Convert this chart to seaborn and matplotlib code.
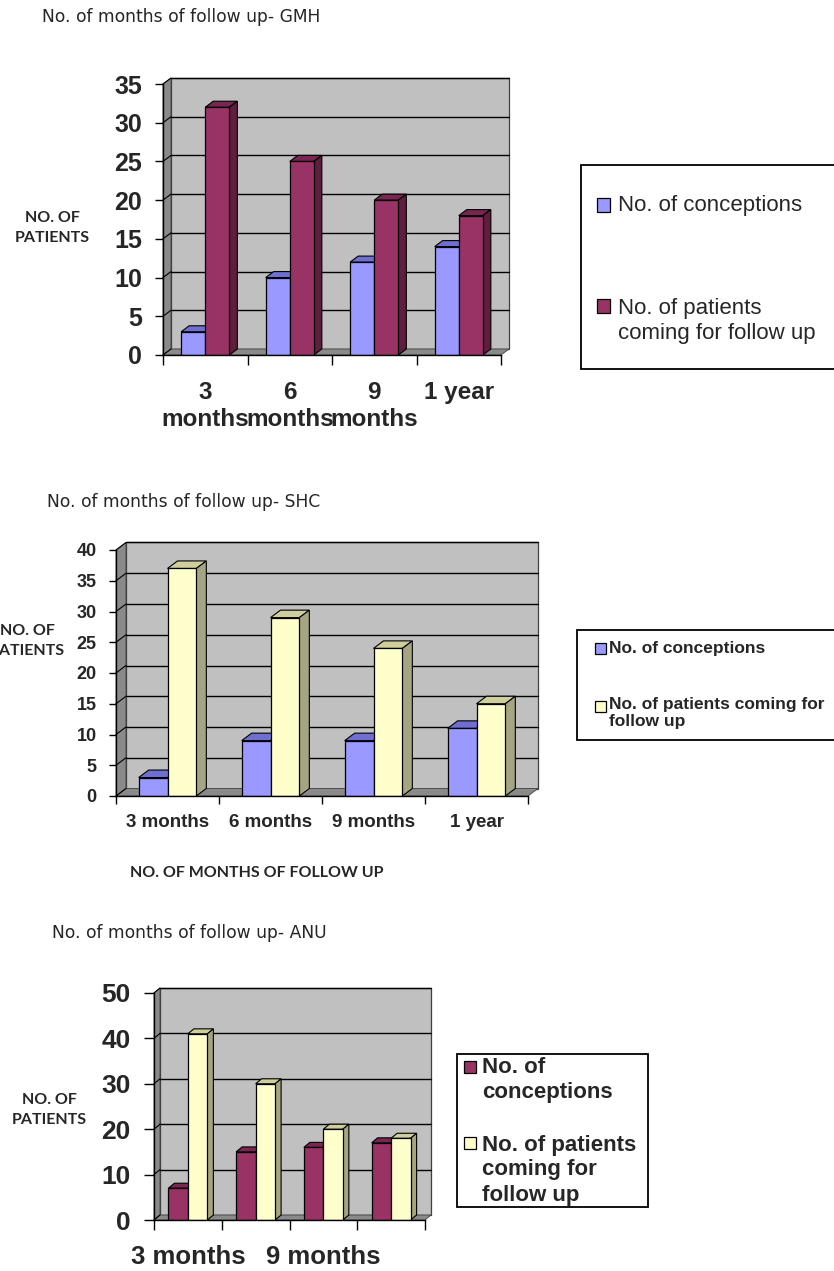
import textwrap

import numpy as np
import pandas as pd
import matplotlib
matplotlib.use("Agg")
import matplotlib.pyplot as plt
from matplotlib.patches import Polygon, Rectangle
import seaborn as sns

# ---------------------------------------------------------------- data
periods = ["3 months", "6 months", "9 months", "1 year"]
series_names = ["No. of conceptions", "No. of patients coming for follow up"]

gmh_conceptions = [3, 10, 12, 14]
gmh_follow_up = [32, 25, 20, 18]

shc_conceptions = [3, 9, 9, 11]
shc_follow_up = [37, 29, 24, 15]

anu_conceptions = [7, 15, 16, 17]
anu_follow_up = [41, 30, 20, 18]

titles = ["No. of months of follow up- GMH",
          "No. of months of follow up- SHC",
          "No. of months of follow up- ANU"]
y_title = "NO. OF\nPATIENTS"
x_title = "NO. OF MONTHS OF FOLLOW UP"

# ---------------------------------------------------------------- style
sns.set_style("white")
plt.rcParams["font.family"] = ["Liberation Sans", "DejaVu Sans"]

W, H = 834, 1271
fig = plt.figure(figsize=(W / 100, H / 100), dpi=100)
fig.patch.set_facecolor("white")

BLUE = ("#9999FF", "#6F6FD2", "#5A5AA8")
MAROON = ("#993366", "#7A2652", "#5E1E3E")
CREAM = ("#FFFFCC", "#CFCF9E", "#A5A583")
WALL = "#C0C0C0"
SIDE_WALL = "#8A8A8A"


def fx(x):
    return x / W


def fy(y):
    return 1 - y / H


def draw_panel(box, ymax, ystep, conc, foll, shades, depth, width,
               tick_labels, ysize, xsize, ypad, xpad, ylen, xlen):
    left, top, right, bottom = box
    ax = fig.add_axes([fx(left), fy(bottom), (right - left) / W, (bottom - top) / H])
    df = pd.DataFrame({
        "period": periods * 2,
        "count": list(conc) + list(foll),
        "series": [series_names[0]] * len(periods) + [series_names[1]] * len(periods),
    })
    sns.barplot(data=df, x="period", y="count", hue="series", order=periods,
                hue_order=series_names, palette=[shades[0][0], shades[1][0]],
                width=width, gap=0, saturation=1, edgecolor="black",
                linewidth=0.9, legend=False, ax=ax, zorder=3)
    ax.set_xlim(-0.5, len(periods) - 0.5)
    ax.set_ylim(0, ymax)
    ax.set_facecolor("none")
    ax.set_xlabel("")
    ax.set_ylabel("")

    # depth of the 3-D box in data units
    sx = (right - left) / len(periods)
    sy = (bottom - top) / ymax
    ddx, ddy = depth[0] / sx, depth[1] / sy
    x_lo, x_hi = -0.5, len(periods) - 0.5

    # back wall, side wall, floor
    ax.add_patch(Rectangle((x_lo + ddx, ddy), x_hi - x_lo, ymax, facecolor=WALL,
                           edgecolor="#404040", lw=0.9, zorder=0, clip_on=False))
    ax.add_patch(Polygon([(x_lo, 0), (x_lo + ddx, ddy), (x_lo + ddx, ymax + ddy), (x_lo, ymax)],
                         closed=True, facecolor=SIDE_WALL, edgecolor="#404040", lw=0.6,
                         zorder=0.5, clip_on=False))
    ax.add_patch(Polygon([(x_lo, 0), (x_hi, 0), (x_hi + ddx, ddy), (x_lo + ddx, ddy)],
                         closed=True, facecolor=SIDE_WALL, edgecolor="#404040", lw=0.6,
                         zorder=0.5, clip_on=False))

    ticks = np.arange(0, ymax + 0.1, ystep)
    for v in ticks:
        if v > 0:
            ax.plot([x_lo + ddx, x_hi + ddx], [v + ddy, v + ddy], color="black",
                    lw=1.0, zorder=1, clip_on=False)
        ax.plot([x_lo, x_lo + ddx], [v, v + ddy], color="black", lw=0.8,
                zorder=0.7, clip_on=False)

    # top and side faces of each bar
    bars = list(ax.patches)[: 2 * len(periods)]
    for i, p in enumerate(bars):
        _, top_c, side_c = shades[i // len(periods)]
        x, w, h = p.get_x(), p.get_width(), p.get_height()
        ax.add_patch(Polygon([(x, h), (x + w, h), (x + w + ddx, h + ddy), (x + ddx, h + ddy)],
                             closed=True, facecolor=top_c, edgecolor="black", lw=0.8,
                             zorder=2.5, clip_on=False))
        ax.add_patch(Polygon([(x + w, 0), (x + w + ddx, ddy), (x + w + ddx, h + ddy), (x + w, h)],
                             closed=True, facecolor=side_c, edgecolor="black", lw=0.8,
                             zorder=2.5, clip_on=False))

    for s in ("top", "right"):
        ax.spines[s].set_visible(False)
    for s in ("left", "bottom"):
        ax.spines[s].set_color("black")
        ax.spines[s].set_linewidth(1.0)
        ax.spines[s].set_zorder(4)

    ax.set_yticks(ticks, labels=[f"{int(t)}" for t in ticks],
                  fontsize=ysize, fontweight="bold")
    ax.tick_params(axis="y", length=ylen, width=1, pad=ypad, color="black",
                   direction="out", left=True)
    ax.set_xticks(range(len(periods)), labels=tick_labels, fontsize=xsize,
                  fontweight="bold")
    ax.tick_params(axis="x", which="major", length=0, pad=xpad)
    ax.set_xticks(np.arange(x_lo, x_hi + 0.1, 1), minor=True)
    ax.tick_params(axis="x", which="minor", length=xlen, width=1, color="black",
                   direction="out", bottom=True)
    return ax


def draw_key(box, entries, fontsize, weight, linespacing, msize, text_x, marker_x):
    left, top, right, bottom = box
    fig.add_artist(Rectangle((fx(left), fy(bottom)), (right - left) / W, (bottom - top) / H,
                             transform=fig.transFigure, facecolor="white",
                             edgecolor="black", lw=1.3))
    for color, label, marker_y, text_y in entries:
        fig.add_artist(Rectangle((fx(marker_x), fy(marker_y + msize / 2)), msize / W, msize / H,
                                 transform=fig.transFigure, facecolor=color,
                                 edgecolor="black", lw=0.9))
        fig.text(fx(text_x), fy(text_y), label, fontsize=fontsize, fontweight=weight,
                 ha="left", va="center", linespacing=linespacing)


# ---------------------------------------------------------------- GMH
draw_panel((163, 84, 501, 355), 35, 5, gmh_conceptions, gmh_follow_up,
           (BLUE, MAROON), (8, 6), 0.57,
           [textwrap.fill(p, 6) for p in periods],
           18, 17.5, 9, 19, 6, 7)
fig.text(fx(42), fy(17), titles[0], family="DejaVu Sans", fontsize=12.3,
         ha="left", va="center")
fig.text(fx(52), fy(228), y_title, family="Lato", fontweight="bold", fontsize=11.5,
         ha="center", va="center", linespacing=1.55)
draw_key((581, 165, 836, 369),
         [(BLUE[0], textwrap.fill(series_names[0], 20), 205, 205),
          (MAROON[0], textwrap.fill(series_names[1], 20), 306, 321)],
         16, "normal", 1.2, 13, 618, 597)

# ---------------------------------------------------------------- SHC
draw_panel((116, 550, 528, 796), 40, 5, shc_conceptions, shc_follow_up,
           (BLUE, CREAM), (10, 7.5), 0.56,
           periods, 13, 13.5, 9, 13, 5, 6)
fig.text(fx(47), fy(502), titles[1], family="DejaVu Sans", fontsize=12.3,
         ha="left", va="center")
fig.text(fx(27), fy(641), y_title, family="Lato", fontweight="bold", fontsize=11.5,
         ha="center", va="center", linespacing=1.55)
fig.text(fx(257), fy(873), x_title, family="Lato", fontweight="bold", fontsize=11.5,
         ha="center", va="center")
draw_key((577, 630, 836, 740),
         [(BLUE[0], textwrap.fill(series_names[0], 26), 648, 648),
          (CREAM[0], textwrap.fill(series_names[1], 26), 706, 713)],
         12.5, "bold", 1.1, 11, 609, 595)

# ---------------------------------------------------------------- ANU
draw_panel((154, 993, 425, 1220), 50, 10, anu_conceptions, anu_follow_up,
           (MAROON, CREAM), (6, 5), 0.575,
           [p if i % 2 == 0 else "" for i, p in enumerate(periods)],
           19, 18.5, 10, 18, 7, 7)
fig.text(fx(52), fy(933), titles[2], family="DejaVu Sans", fontsize=12.3,
         ha="left", va="center")
fig.text(fx(49), fy(1110), y_title, family="Lato", fontweight="bold", fontsize=11.5,
         ha="center", va="center", linespacing=1.55)
draw_key((457, 1054, 648, 1207),
         [(MAROON[0], textwrap.fill(series_names[0], 15), 1067, 1080),
          (CREAM[0], textwrap.fill(series_names[1], 15), 1143, 1170)],
         16, "bold", 1.25, 12, 482, 464)

fig.savefig("out.png", dpi=100, facecolor="white")
